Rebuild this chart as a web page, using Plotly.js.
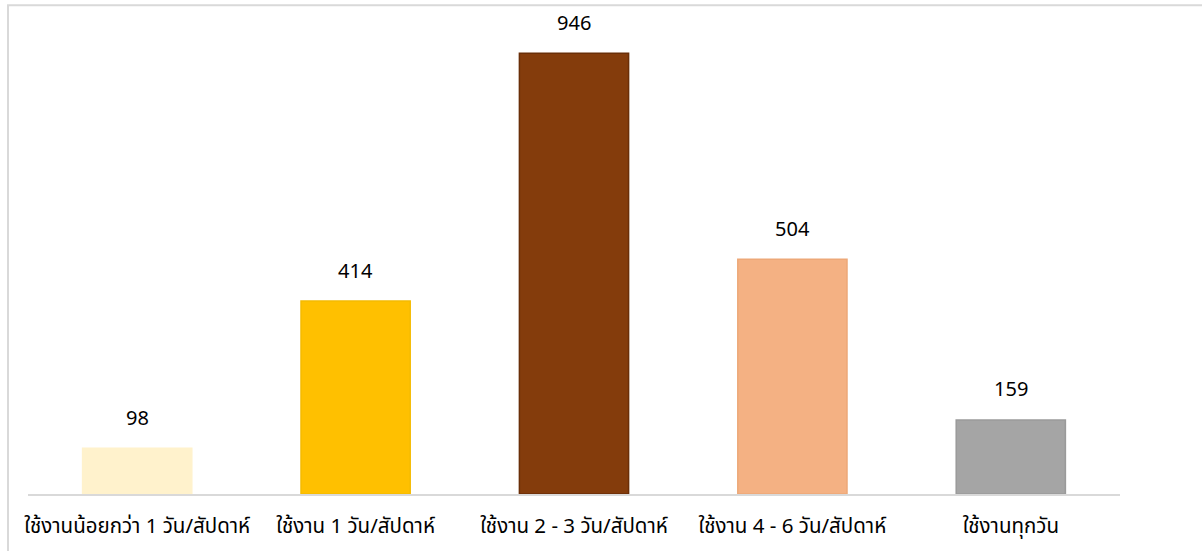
<!DOCTYPE html>
<html>
<head>
<meta charset="utf-8">
<script src="https://cdn.plot.ly/plotly-3.0.1.min.js"></script>
<style>
html,body{margin:0;padding:0;background:#fff;}
#chart{width:1202px;height:551px;}
</style>
</head>
<body>
<div id="chart"></div>
<script>
const categories = [
  "ใช้งานน้อยกว่า 1 วัน/สัปดาห์",
  "ใช้งาน 1 วัน/สัปดาห์",
  "ใช้งาน 2 - 3 วัน/สัปดาห์",
  "ใช้งาน 4 - 6 วัน/สัปดาห์",
  "ใช้งานทุกวัน"
];
const values = [98, 414, 946, 504, 159];
const barColors = ["#FFF2CC", "#FFC000", "#843C0C", "#F4B183", "#A5A5A5"];
const barLineColors = ["#FFF2CC", "#F5BA00", "#6A2E08", "#EDA878", "#9A9A9A"];

const font = "Tahoma, 'Noto Sans', 'Noto Sans Thai', sans-serif";

const trace = {
  type: "bar",
  x: categories,
  y: values,
  marker: { color: barColors, line: { color: barLineColors, width: 1.5 } },
  hoverinfo: "x+y"
};

const annotations = categories.map((c, i) => ({
  x: c, y: values[i], xref: "x", yref: "y",
  text: String(values[i]),
  showarrow: false, yanchor: "middle", yshift: 31,
  font: { family: font, size: 20, color: "#000" }
}));

const layout = {
  width: 1202, height: 551,
  margin: { l: 28, r: 82, t: 28, b: 57 },
  paper_bgcolor: "#fff", plot_bgcolor: "#fff",
  bargap: 0.5,
  showlegend: false,
  xaxis: {
    showline: true, linecolor: "#D9D9D9", linewidth: 2,
    showgrid: false, zeroline: false,
    ticks: "", ticklabelstandoff: 12,
    tickfont: { family: font, size: 20.5, color: "#000" }
  },
  yaxis: {
    range: [0, 1000], visible: false, showgrid: false, zeroline: false
  },
  annotations: annotations,
  shapes: [{
    type: "rect", xref: "paper", yref: "paper",
    x0: -0.0183, x1: 1.3, y0: -0.3, y1: 1.049,
    line: { color: "#D9D9D9", width: 2 }, fillcolor: "rgba(0,0,0,0)", layer: "below"
  }]
};

Plotly.newPlot("chart", [trace], layout, { displayModeBar: false });
</script>
</body>
</html>
